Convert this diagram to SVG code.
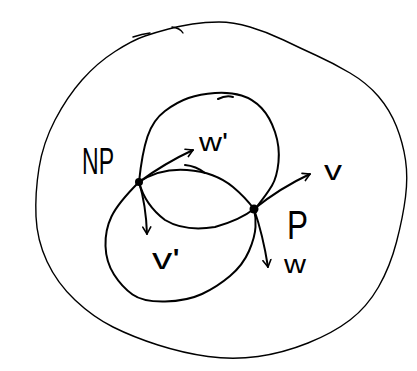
<svg xmlns="http://www.w3.org/2000/svg" width="417" height="371" viewBox="0 0 417 371">
<style>
.c{fill:none;stroke:#000;stroke-linecap:round;stroke-linejoin:round}
.o{stroke-width:1.4}
.i{stroke-width:2}
.a{fill:none;stroke:#000;stroke-width:2;stroke-linecap:round}
.t{font-family:"Liberation Sans",Arial,sans-serif;fill:#000}
</style>
<defs>
<marker id="ah" viewBox="0 0 10 10" refX="8" refY="5" markerWidth="5" markerHeight="5" orient="auto" markerUnits="strokeWidth">
<path d="M1,1 L8,5 L1,9" fill="none" stroke="#000" stroke-width="1.6" stroke-linecap="round" stroke-linejoin="round"/>
</marker>
</defs>
<g id="surface">
<path class="c o" d="M 145 36 Q 157 32 168.5 29 Q 180 26 192.5 24 Q 205 22 219 22 Q 233 22 250 27 Q 267 32 283.5 40 Q 300 48 316.5 55.5 Q 333 63 350 73 Q 367 83 378.5 96.5 Q 390 110 396.5 126.5 Q 403 143 405.5 160 Q 408 177 405.5 197 Q 403 217 396.5 242 Q 390 267 378.5 287 Q 367 307 350 320 Q 333 333 308 343 Q 283 353 258 356.5 Q 233 360 208 356.5 Q 183 353 158 345 Q 133 337 113 327 Q 93 317 75 300 Q 57 283 47 261.5 Q 37 240 36 216.5 Q 35 193 39 168 Q 43 143 55 120 Q 67 97 82 80 Q 97 63 115 51.5 Q 133 40 145 36 Z"/>
<path class="c o" d="M 133 37 Q 142 34 150 33"/>
<path class="c o" d="M 172 27 Q 180 28 183 33"/>
</g>
<g id="loops">
<path class="c i" d="M 139 182 Q 142 153 147.5 136.5 Q 153 120 165 111 Q 177 102 188.5 98 Q 200 94 215 93 Q 230 92 241.5 95.5 Q 253 99 261.5 108 Q 270 117 275 132 Q 280 147 278.5 162 Q 277 177 272 185.5 Q 267 194 255 209"/>
<path class="c i" d="M 218 99 Q 226 95 233 97"/>
<path class="c i" d="M 139 182 Q 160 168 187 170 Q 215 172 233 187 Q 245 197 254 209"/>
<path class="c i" d="M 185 165 Q 196 166 205 173"/>
<path class="c i" d="M 139 182 Q 145 205 165 220 Q 185 232 215 227 Q 240 220 254 209"/>
<path class="c i" d="M 139 182 Q 118 203 111.5 216.5 Q 105 230 105.5 246 Q 106 262 114 274.5 Q 122 287 132.5 294.5 Q 143 302 165 301.5 Q 187 301 202 294 Q 217 287 230 276 Q 243 265 249 251 Q 255 237 255.5 227 Q 256 217 254 209"/>
</g>
<g id="connectors">
<path class="a" d="M 139 182 Q 165 163 193 150" marker-end="url(#ah)"/>
<path class="a" d="M 139 182 Q 146 205 147 234" marker-end="url(#ah)"/>
<path class="a" d="M 254 209 Q 280 188 310 174" marker-end="url(#ah)"/>
<path class="a" d="M 254 209 Q 263 235 268 267" marker-end="url(#ah)"/>
</g>
<g id="NP">
<circle cx="139" cy="182" r="4"/>
<text class="t" x="82" y="174" font-size="36" textLength="32" lengthAdjust="spacingAndGlyphs">NP</text>
</g>
<g id="P">
<circle cx="254" cy="209" r="4.5"/>
<text class="t" x="287" y="239" font-size="40" textLength="21" lengthAdjust="spacingAndGlyphs">P</text>
</g>
<g id="labels">
<text class="t" x="199" y="151" font-size="26" textLength="29" lengthAdjust="spacingAndGlyphs">w'</text>
<text class="t" x="324" y="180" font-size="28" textLength="18" lengthAdjust="spacingAndGlyphs">v</text>
<text class="t" x="284" y="273" font-size="26" textLength="22" lengthAdjust="spacingAndGlyphs">w</text>
<text class="t" x="152" y="269" font-size="30" textLength="28" lengthAdjust="spacingAndGlyphs">v'</text>
</g>
</svg>
